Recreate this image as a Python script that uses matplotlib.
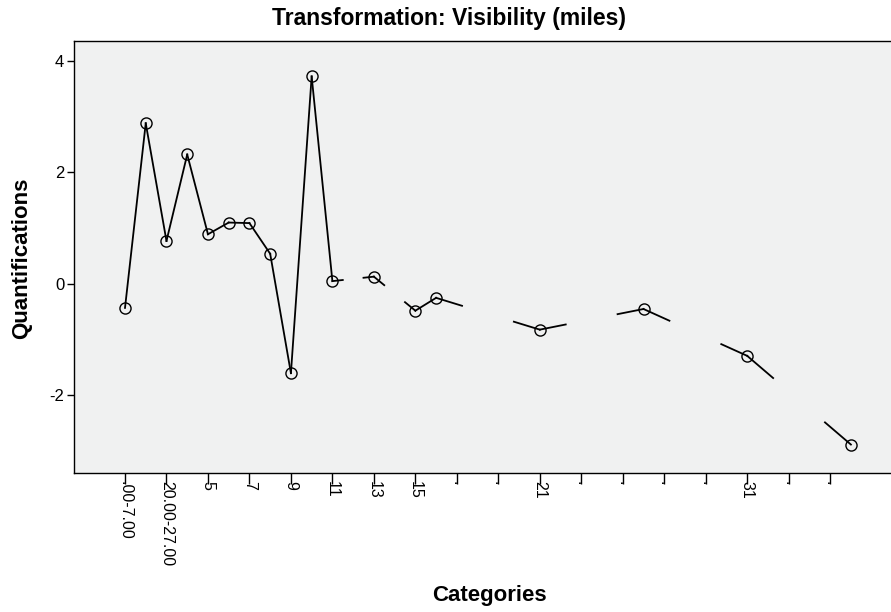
import matplotlib
matplotlib.use("Agg")
import matplotlib.pyplot as plt
import numpy as np

plt.rcParams['font.family'] = ['Liberation Sans', 'DejaVu Sans']

# Data
cat_index = [0, 1, 2, 3, 4, 5, 6, 7, 8, 9, 10, 12, 14, 15, 20, 25, 30, 35]
quant = [-0.43, 2.88, 0.77, 2.32, 0.89, 1.10, 1.09, 0.54, -1.60, 3.72,
         0.05, 0.13, -0.48, -0.25, -0.82, -0.45, -1.29, -2.88]
tick_pos = list(range(0, 35, 2))
tick_labels = [".00-7.00", "20.00-27.00", "5", "7", "9", "11", "13", "15",
               ".", ".", "21", ".", ".", ".", ".", "31", ".", "."]
y_ticks = [-2, 0, 2, 4]

fig = plt.figure(figsize=(8.91, 6.12), dpi=100)
ax = fig.add_axes([74/891, 1-473/612, (893-74)/891, (473-40.7)/612])
ax.set_facecolor('#F0F1F1')

x = np.array(cat_index, dtype=float)
y = np.array(quant, dtype=float)

# Lines: full between adjacent categories, quarter stubs across gaps
for i in range(len(x) - 1):
    x0, x1, y0, y1 = x[i], x[i+1], y[i], y[i+1]
    if x1 - x0 <= 1:
        ax.plot([x0, x1], [y0, y1], color='black', lw=1.3, zorder=2)
    else:
        f = 0.25
        ax.plot([x0, x0 + f*(x1-x0)], [y0, y0 + f*(y1-y0)], color='black', lw=1.3, zorder=2)
        ax.plot([x1 - f*(x1-x0), x1], [y1 - f*(y1-y0), y1], color='black', lw=1.3, zorder=2)

ax.plot(x, y, linestyle='none', marker='o', markersize=8, markerfacecolor='none',
        markeredgecolor='black', markeredgewidth=1.0, zorder=3)

ax.set_xlim((74-125)/20.74, (893-125)/20.74)
ax.set_ylim(-3.39, 4.36)

ax.set_xticks(tick_pos)
ax.set_xticklabels(tick_labels, rotation=270, fontsize=11.5, va='top', ha='center')
ax.set_yticks(y_ticks)
ax.set_yticklabels([str(t) for t in y_ticks], fontsize=12)
ax.tick_params(axis='x', length=8, width=1, direction='out', pad=-2)
ax.tick_params(axis='y', length=5, width=1, direction='out', pad=2)

for s in ax.spines.values():
    s.set_color('black')
    s.set_linewidth(1.0)

fig.text(449/891, 1-19/612, 'Transformation: Visibility (miles)', fontsize=16.5,
         fontweight='bold', ha='center', va='center')
fig.text(22/891, 1-258/612, 'Quantifications', rotation=90, fontsize=16,
         fontweight='bold', ha='center', va='center')
fig.text(489/891, 1-595/612, 'Categories', fontsize=16, fontweight='bold',
         ha='center', va='center')

fig.savefig('out.png', dpi=100)
